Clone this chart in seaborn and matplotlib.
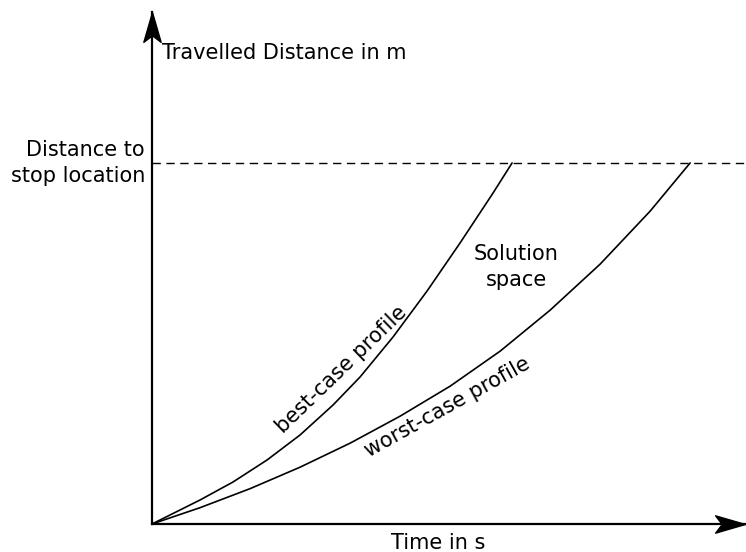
import matplotlib
matplotlib.use("Agg")
import matplotlib.pyplot as plt
from matplotlib.path import Path
import seaborn as sns
import pandas as pd

# ─── DATA ─────────────────────────────────────────────────────────────────────
best_t  = [0, 0.896, 1.511, 2.146, 2.761, 3.377, 3.881, 4.496, 5.131, 5.746, 6.362, 6.716]
best_d  = [0, 6.65, 11.63, 17.73, 24.65, 32.96, 40.72, 51.80, 64.54, 77.84, 91.69, 100]
worst_t = [0, 0.896, 1.828, 2.761, 3.694, 4.627, 5.560, 6.493, 7.425, 8.358, 9.291, 10.037]
worst_d = [0, 4.52, 9.78, 15.73, 22.38, 29.86, 38.17, 47.87, 59.22, 71.97, 86.65, 100]
stop_distance = 100

x_max, y_max = 11.06, 141.8

# ─── STYLE ────────────────────────────────────────────────────────────────────
sns.set_style("white")
plt.rcParams["font.family"] = ["DejaVu Sans"]
plt.rcParams["font.size"] = 15
plt.rcParams["text.color"] = "black"

df = pd.concat([
    pd.DataFrame({"t": best_t, "d": best_d, "profile": "best"}),
    pd.DataFrame({"t": worst_t, "d": worst_d, "profile": "worst"}),
])

fig = plt.figure(figsize=(7.46, 5.52), dpi=100)
ax = fig.add_axes([152 / 746, 28 / 552, 593 / 746, 512 / 552])

sns.lineplot(data=df, x="t", y="d", units="profile", estimator=None,
             color="black", linewidth=1.2, sort=False, ax=ax, legend=False)

ax.axhline(stop_distance, color="black", linewidth=1.0,
           linestyle=(0, (6, 4)), clip_on=False)

ax.set_xlim(0, x_max)
ax.set_ylim(0, y_max)
ax.set_xticks([])
ax.set_yticks([])
ax.set_xlabel("")
ax.set_ylabel("")
for s in ["top", "right"]:
    ax.spines[s].set_visible(False)
for s in ["left", "bottom"]:
    ax.spines[s].set_linewidth(1.6)
    ax.spines[s].set_color("black")

# stealth arrow heads at the axis ends
right_head = Path([(0, 0), (-1, 0.29), (-0.78, 0), (-1, -0.29), (0, 0)],
                  [Path.MOVETO, Path.LINETO, Path.LINETO, Path.LINETO, Path.CLOSEPOLY])
up_head = Path([(0, 0), (0.29, -1), (0, -0.78), (-0.29, -1), (0, 0)],
               [Path.MOVETO, Path.LINETO, Path.LINETO, Path.LINETO, Path.CLOSEPOLY])
ax.plot(1, 0, marker=right_head, markersize=43, color="black",
        transform=ax.transAxes, clip_on=False)
ax.plot(0, 1, marker=up_head, markersize=43, color="black",
        transform=ax.transAxes, clip_on=False)

# ─── TEXT ─────────────────────────────────────────────────────────────────────
ax.text(0.19, 130.5, "Travelled Distance in m", ha="left", va="center")
ax.text(5.34, -5.3, "Time in s", ha="center", va="center", clip_on=False)
ax.text(-0.13, stop_distance, "Distance to\nstop location", ha="right",
        va="center", multialignment="right", linespacing=1.37, clip_on=False)
ax.text(6.79, 71.2, "Solution\nspace", ha="center", va="center",
        multialignment="center", linespacing=1.4)
ax.text(3.53, 42.7, "best-case profile", ha="center", va="center",
        rotation=44, rotation_mode="anchor")
ax.text(5.50, 32.4, "worst-case profile", ha="center", va="center",
        rotation=29, rotation_mode="anchor")

plt.savefig("out.png", dpi=100)
plt.close()
